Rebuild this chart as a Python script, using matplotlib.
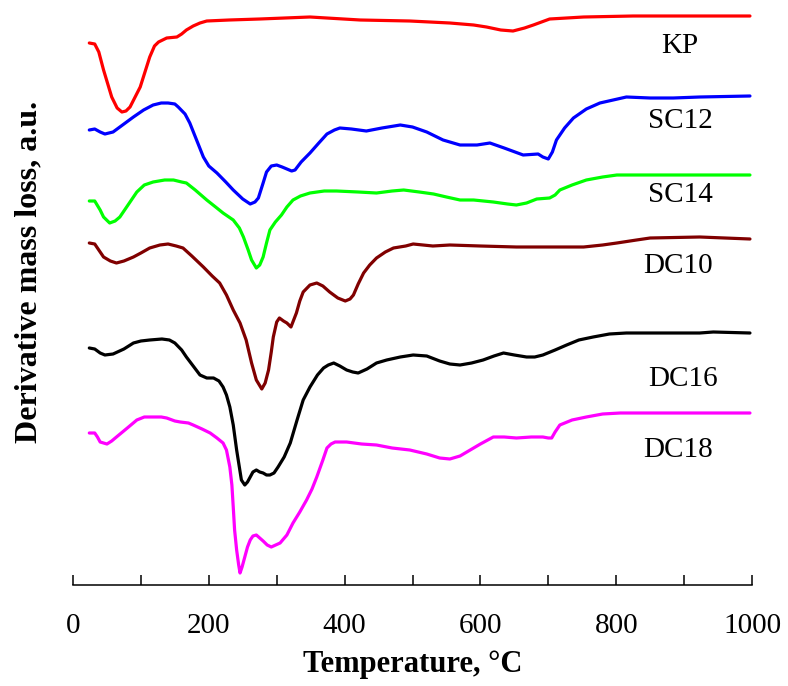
import matplotlib
matplotlib.use("Agg")
import matplotlib.pyplot as plt
from matplotlib.ticker import MultipleLocator

plt.rcParams["font.family"] = ["Liberation Serif", "DejaVu Serif"]

# DTG curves (temperature in deg C, stacked derivative signal in a.u.)
kp_t = [24, 32, 38, 45, 57, 65, 72, 78, 84, 99, 106, 113, 120, 126, 138, 153, 160, 167, 177, 187, 197,
        230, 275, 349, 423, 496, 555, 590, 609, 630, 648, 665, 678, 702, 752, 825, 923, 997]
kp_y = [542, 541, 533, 515, 488, 477, 473, 474, 478, 498, 513, 528, 539, 543, 547, 548, 551, 555, 559,
        562, 564, 565, 566, 568, 565, 564, 562, 560, 558, 555, 554, 557, 560, 566, 568, 569, 569, 569]

sc12_t = [24, 32, 40, 47, 59, 75, 89, 104, 118, 130, 140, 150, 155, 165, 172, 182, 192, 200, 212, 225,
          236, 250, 261, 268, 273, 280, 285, 292, 300, 308, 315, 322, 327, 336, 349, 362, 374, 385, 393,
          410, 432, 455, 482, 500, 521, 545, 570, 595, 614, 635, 663, 685, 692, 700, 706, 712, 724, 737,
          756, 776, 815, 850, 884, 923, 997]
sc12_y = [455, 456, 453, 451, 453, 461, 468, 475, 480, 482, 482, 481, 478, 471, 462, 445, 428, 419, 412,
          403, 395, 386, 381, 383, 387, 402, 413, 419, 420, 418, 416, 414, 415, 423, 432, 442, 451, 455,
          457, 456, 454, 457, 460, 458, 453, 445, 440, 440, 442, 437, 430, 431, 428, 426, 433, 445, 457,
          467, 476, 482, 488, 487, 487, 488, 489]

sc14_t = [24, 32, 40, 45, 54, 62, 69, 80, 94, 105, 118, 135, 148, 160, 167, 180, 197, 210, 221, 236,
          245, 251, 258, 263, 270, 275, 280, 285, 290, 298, 307, 315, 324, 335, 349, 370, 388, 420, 447,
          470, 487, 510, 531, 550, 570, 590, 619, 640, 653, 668, 683, 702, 710, 717, 735, 756, 780, 801,
          874, 997]
sc14_y = [384, 384, 375, 368, 362, 364, 368, 379, 393, 400, 403, 405, 405, 403, 402, 395, 385, 378, 372,
          365, 357, 348, 335, 325, 317, 320, 328, 342, 355, 363, 370, 378, 385, 389, 392, 394, 394, 393,
          392, 394, 395, 393, 391, 388, 385, 385, 383, 381, 380, 382, 386, 387, 390, 395, 400, 405, 408,
          410, 410, 410]

dc10_t = [24, 32, 40, 45, 55, 64, 75, 89, 100, 113, 128, 140, 152, 162, 175, 192, 205, 216, 226, 236,
          246, 255, 263, 270, 278, 283, 288, 292, 295, 300, 304, 310, 315, 321, 325, 329, 334, 339, 349,
          359, 368, 378, 390, 401, 408, 413, 420, 428, 437, 447, 460, 472, 490, 501, 530, 555, 600, 653,
          700, 752, 780, 801, 830, 850, 923, 960, 997]
dc10_y = [342, 341, 333, 328, 324, 322, 324, 328, 332, 337, 340, 341, 339, 337, 329, 318, 309, 302, 290,
          275, 262, 245, 222, 205, 196, 202, 215, 233, 248, 263, 267, 264, 262, 258, 265, 272, 284, 293,
          300, 302, 299, 293, 287, 284, 286, 290, 301, 312, 320, 327, 333, 337, 339, 341, 339, 340, 339,
          338, 338, 338, 340, 342, 345, 347, 348, 347, 346]

dc16_t = [24, 32, 40, 47, 59, 75, 89, 100, 113, 131, 142, 150, 160, 167, 177, 187, 197, 207, 215, 221,
          226, 231, 236, 241, 248, 253, 257, 261, 265, 270, 275, 280, 285, 290, 296, 302, 311, 320, 330,
          339, 349, 360, 369, 376, 384, 393, 403, 412, 420, 433, 447, 462, 482, 501, 521, 540, 555, 570,
          587, 604, 620, 634, 650, 668, 680, 692, 710, 727, 745, 766, 790, 815, 870, 923, 943, 997]
dc16_y = [237, 236, 232, 230, 231, 236, 242, 244, 245, 246, 245, 242, 235, 228, 219, 210, 207, 207, 204,
          198, 190, 178, 160, 135, 105, 100, 103, 108, 113, 115, 113, 112, 110, 110, 112, 118, 128, 142,
          165, 185, 198, 210, 217, 220, 222, 219, 215, 213, 212, 216, 222, 225, 228, 230, 229, 224, 221,
          220, 222, 225, 229, 232, 230, 228, 228, 230, 235, 240, 245, 248, 251, 252, 252, 252, 253, 252]

dc18_t = [24, 32, 36, 40, 50, 57, 64, 80, 94, 105, 118, 130, 138, 150, 158, 170, 177, 190, 202, 212,
          221, 226, 231, 234, 236, 238, 241, 244, 246, 249, 253, 257, 261, 265, 270, 275, 280, 286, 292,
          305, 315, 324, 334, 344, 352, 359, 368, 374, 380, 386, 403, 425, 447, 470, 496, 521, 540, 555,
          570, 580, 600, 619, 635, 653, 675, 692, 700, 705, 710, 717, 735, 756, 780, 806, 923, 997]
dc18_y = [152, 152, 148, 143, 141, 144, 148, 157, 165, 168, 168, 168, 167, 164, 163, 162, 160, 156, 152,
          147, 142, 135, 118, 100, 78, 55, 35, 20, 12, 18, 28, 38, 45, 49, 50, 47, 44, 40, 38, 42, 50, 62,
          73, 85, 96, 108, 125, 137, 141, 143, 143, 141, 140, 137, 135, 131, 127, 126, 129, 133, 141, 148,
          148, 147, 148, 148, 147, 147, 153, 160, 165, 168, 171, 172, 172, 172]

names = ["KP", "SC12", "SC14", "DC10", "DC16", "DC18"]
colors = ["#ff0000", "#0000ff", "#00ff00", "#800000", "#000000", "#ff00ff"]
temps = [kp_t, sc12_t, sc14_t, dc10_t, dc16_t, dc18_t]
signals = [kp_y, sc12_y, sc14_y, dc10_y, dc16_y, dc18_y]

# label anchor (temperature, signal) for each curve name
label_t = [894, 894, 894, 891, 898, 891]
label_y = [532, 457, 383, 312, 199, 128]

fig = plt.figure(figsize=(7.88, 6.86), dpi=100)
ax = fig.add_axes([73 / 788, 101 / 686, 679 / 788, 575 / 686])

for t, y, c in zip(temps, signals, colors):
    ax.plot(t, y, color=c, lw=2.3, solid_joinstyle="round", solid_capstyle="round")

for name, lt, ly in zip(names, label_t, label_y):
    ax.text(lt, ly, name, ha="center", va="baseline", fontsize=21, color="black")

ax.set_xlim(0, 1000)
ax.set_ylim(0, 575)
ax.xaxis.set_major_locator(MultipleLocator(200))
ax.xaxis.set_minor_locator(MultipleLocator(100))
ax.tick_params(axis="x", which="both", direction="in", length=7, width=1.1,
               labelsize=21, pad=20)
ax.set_yticks([])
for side in ["left", "right", "top"]:
    ax.spines[side].set_visible(False)
ax.spines["bottom"].set_linewidth(1.1)

ax.set_xlabel("Temperature, \u00b0C", fontsize=22, fontweight="bold", labelpad=8)
ax.set_ylabel("Derivative mass loss, a.u.", fontsize=23, fontweight="bold")
ax.yaxis.set_label_coords(-0.044, 0.545)

fig.savefig("out.png", dpi=100)
